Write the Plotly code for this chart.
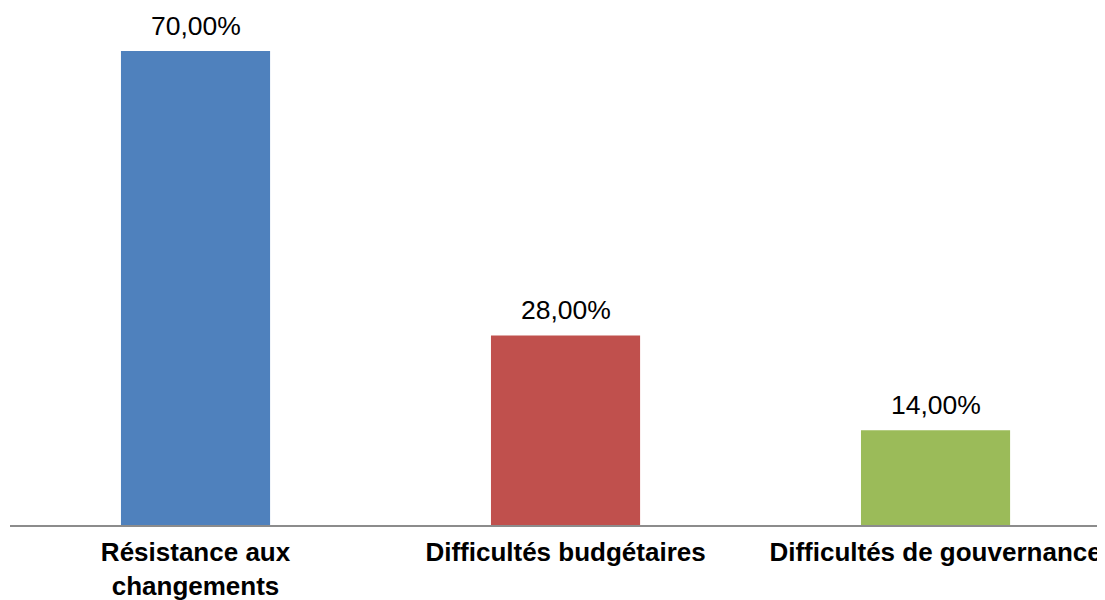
import plotly.graph_objects as go

categories = ["Résistance aux<br>changements", "Difficultés budgétaires", "Difficultés de gouvernance"]
values = [70.0, 28.0, 14.0]
colors = ["#4F81BD", "#C0504D", "#9BBB59"]

fig = go.Figure()
fig.add_trace(go.Bar(
    x=categories, y=values,
    marker=dict(color=colors, line=dict(width=0)),
    width=0.403,
    hoverinfo="skip",
))

for c, v in zip(categories, values):
    fig.add_annotation(
        x=c, y=v, xref="x", yref="y",
        text=f"{v:.2f}".replace(".", ",") + "%",
        showarrow=False, yanchor="bottom", yshift=8,
        font=dict(family="Liberation Sans, Arial, sans-serif", size=26.5, color="#000000"),
    )

fig.update_layout(
    width=1097, height=592,
    margin=dict(l=2, r=0, t=0, b=75),
    paper_bgcolor="white", plot_bgcolor="white",
    showlegend=False,
    font=dict(family="Liberation Sans, Arial, sans-serif"),
    xaxis=dict(
        range=[-0.5014, 2.458],
        automargin=False,
        showline=True, linecolor="#8C8C8C", linewidth=2,
        showgrid=False, zeroline=False, ticks="",
        ticklabelstandoff=3,
        tickfont=dict(family="Liberation Sans, Arial, sans-serif", size=26, color="#000000", weight="bold"),
    ),
    yaxis=dict(
        range=[0, 76.35], visible=False, showgrid=False, zeroline=False,
        automargin=False,
    ),
)

fig.write_html("out.html")
